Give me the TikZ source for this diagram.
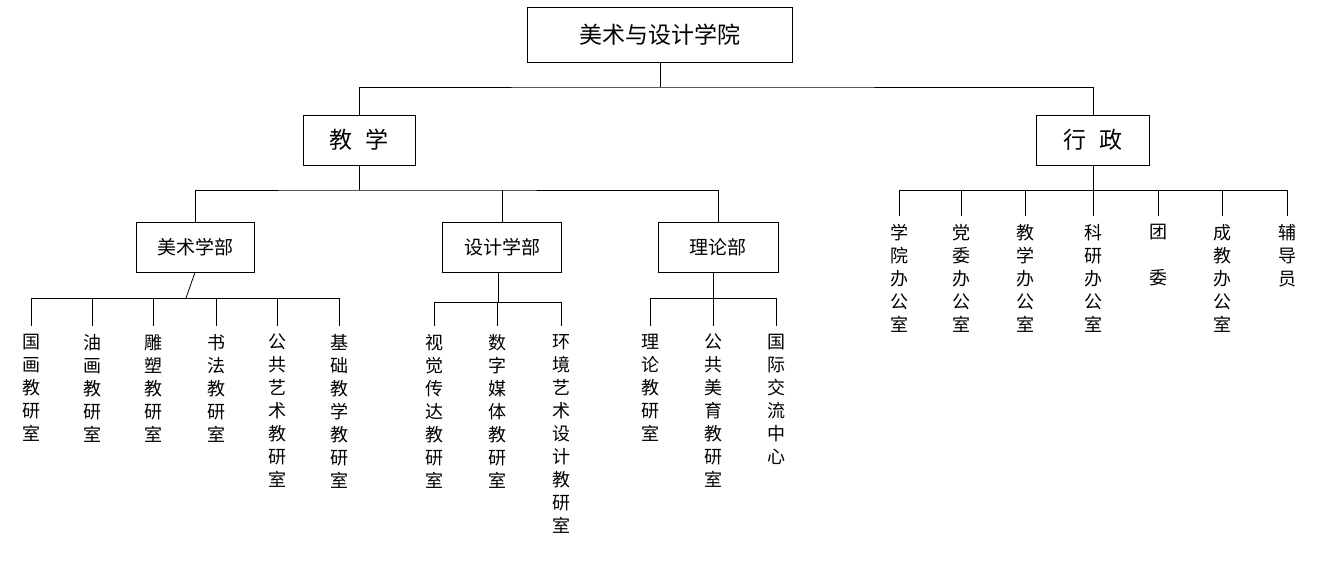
\documentclass[tikz,border=0pt]{standalone}
\usepackage{fontspec}
\newfontfamily\cjk{Noto Sans CJK SC}
\usetikzlibrary{positioning,calc}
\tikzset{
    block/.style={rectangle, draw, thick, inner sep=0pt, font=\cjk\fontsize{19}{19}\selectfont},
    leaf/.style={anchor=north, inner sep=0pt, align=center, font=\cjk\fontsize{18}{23}\selectfont},
    line/.style={draw, thick}
}
\begin{document}
\begin{tikzpicture}[x=1pt, y=-1pt]
    \useasboundingbox (0,0) rectangle (1323,566);
    % Top level
    \node [block, minimum width=265pt, minimum height=55pt, font=\cjk\fontsize{23}{23}\selectfont] (college) at (660,35) {美术与设计学院};
    \node [block, minimum width=112pt, minimum height=50pt, font=\cjk\fontsize{23}{23}\selectfont] (teach) at (359,140) {教\hspace{0.6em}学};
    \node [block, minimum width=113pt, minimum height=50pt, font=\cjk\fontsize{23}{23}\selectfont] (admin) at (1093,140) {行\hspace{0.6em}政};
    \path [line] (college.south) -- (660,87) coordinate (j0);
    \path [line] (teach.north) |- (j0) -| (admin.north);

    % Departments
    \node [block, minimum width=118pt, minimum height=50pt] (fine) at (195,247) {美术学部};
    \node [block, minimum width=119pt, minimum height=50pt] (design) at (502,247) {设计学部};
    \node [block, minimum width=120pt, minimum height=50pt] (theory) at (718,247) {理论部};
    \path [line] (teach.south) -- (359,190) coordinate (j1);
    \path [line] (fine.north) |- (j1) -| (theory.north);
    \path [line] (design.north) -- (design.north |- j1);

    % Fine arts leaves
    \path [line] (fine.south) -- (186,298);
    \path [line] (31,298) -- (339,298);
    \foreach \x/\name/\txt in {31/f1/国\\画\\教\\研\\室, 92/f2/油\\画\\教\\研\\室, 153/f3/雕\\塑\\教\\研\\室,
        216/f4/书\\法\\教\\研\\室, 277/f5/公\\共\\艺\\术\\教\\研\\室, 339/f6/基\\础\\教\\学\\教\\研\\室} {
        \node [leaf] (\name) at (\x,334) {\txt};
        \path [line] (\x,298) -- (\x,326);
    }

    % Design leaves
    \path [line] (498,272) -- (498,302);
    \path [line] (434,302) -- (561,302);
    \foreach \x/\name/\txt in {434/d1/视\\觉\\传\\达\\教\\研\\室, 497/d2/数\\字\\媒\\体\\教\\研\\室,
        561/d3/环\\境\\艺\\术\\设\\计\\教\\研\\室} {
        \node [leaf] (\name) at (\x,334) {\txt};
        \path [line] (\x,302) -- (\x,326);
    }

    % Theory leaves
    \path [line] (713,272) -- (713,298);
    \path [line] (650,298) -- (776,298);
    \foreach \x/\name/\txt in {650/t1/理\\论\\教\\研\\室, 713/t2/公\\共\\美\\育\\教\\研\\室, 776/t3/国\\际\\交\\流\\中\\心} {
        \node [leaf] (\name) at (\x,334) {\txt};
        \path [line] (\x,298) -- (\x,326);
    }

    % Administration leaves
    \path [line] (admin.south) -- (1093,190);
    \path [line] (899,190) -- (1287,190);
    \foreach \x/\name/\txt in {899/a1/学\\院\\办\\公\\室, 961/a2/党\\委\\办\\公\\室, 1025/a3/教\\学\\办\\公\\室,
        1093/a4/科\\研\\办\\公\\室, 1158/a5/团\\[23pt]委, 1222/a6/成\\教\\办\\公\\室, 1287/a7/辅\\导\\员} {
        \node [leaf] (\name) at (\x,224) {\txt};
        \path [line] (\x,190) -- (\x,216);
    }
\end{tikzpicture}
\end{document}
